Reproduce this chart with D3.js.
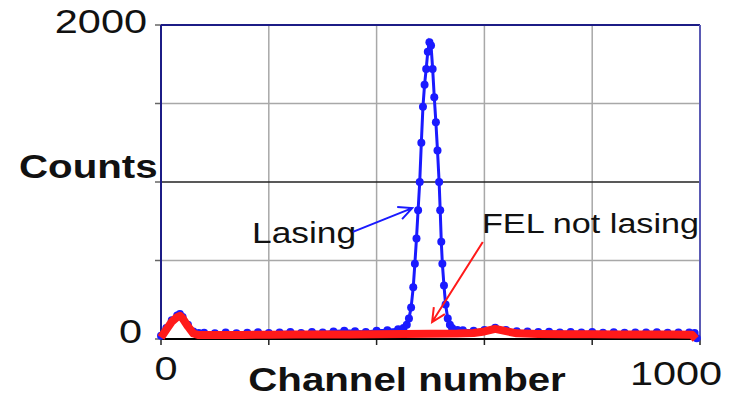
<!DOCTYPE html>
<html lang="en">
<head>
    <meta charset="UTF-8">
    <title>Counts vs channel</title>
    <script src="https://cdn.jsdelivr.net/npm/d3@7"></script>
    <style>
        body { margin: 0; background: #fff; }
        text { font-family: "Liberation Sans", Arial, sans-serif; fill: #111; }
    </style>
</head>
<body>
<script>
    // channel / counts
    const lasingChannels = [0, 10, 20, 30, 35, 40, 50, 60, 70, 80, 100, 120, 140, 160, 180, 200, 220, 240, 260, 280,
        300, 320, 340, 360, 380, 400, 420, 440, 450, 456, 460, 464, 468, 471, 474, 477, 480, 483, 486, 489,
        492, 495, 498, 501, 504, 507, 510, 513, 516, 518, 520, 522, 525, 528, 532, 536, 540, 550, 560, 580,
        600, 620, 640, 660, 680, 700, 720, 740, 760, 780, 800, 820, 840, 860, 880, 900, 920, 940, 960, 980, 990, 994]
    const lasingCounts = [20, 70, 120, 150, 160, 140, 90, 48, 38, 40, 36, 42, 37, 40, 43, 38, 41, 44, 39, 45,
        42, 47, 52, 49, 45, 52, 56, 62, 70, 90, 130, 200, 330, 480, 640, 820, 1000, 1250, 1480, 1620,
        1720, 1830, 1890, 1870, 1720, 1540, 1380, 1200, 1000, 820, 620, 480, 340, 220, 130, 90, 70, 58, 55, 52,
        58, 72, 58, 50, 47, 44, 46, 41, 45, 42, 44, 40, 43, 40, 42, 41, 43, 40, 42, 41, 38, 5]

    const notLasingChannels = [0, 10, 20, 30, 35, 40, 50, 60, 70, 100, 150, 200, 250, 300, 350, 400, 450, 500, 550,
        580, 600, 620, 640, 660, 700, 750, 800, 850, 900, 950, 985, 992]
    const notLasingCounts = [10, 60, 110, 140, 148, 132, 80, 35, 25, 25, 26, 27, 28, 28, 29, 30, 32, 34, 35,
        38, 48, 65, 50, 36, 32, 30, 30, 29, 28, 28, 27, 0]

    const yTicks = [0, 500, 1000, 1500, 2000]
    const xTicks = [0, 200, 400, 600, 800, 1000]

    const W = 740, H = 401
    const plot = {left: 161, right: 700, top: 25, bottom: 339}
    const stretch = 1.22   // text in the picture is a little wide

    const x = d3.scaleLinear().domain([0, 1000]).range([plot.left, plot.right])
    const y = d3.scaleLinear().domain([0, 2000]).range([plot.bottom, plot.top])

    const svg = d3.select("body").append("svg").attr("width", W).attr("height", H)

    // grid
    svg.append("g").selectAll("line").data(xTicks.slice(1, -1)).join("line")
        .attr("x1", d => x(d)).attr("x2", d => x(d))
        .attr("y1", plot.top).attr("y2", plot.bottom)
        .attr("stroke", "#a8a8a8").attr("stroke-width", 1.5)
    svg.append("g").selectAll("line").data(yTicks.slice(1, -1)).join("line")
        .attr("x1", plot.left).attr("x2", plot.right)
        .attr("y1", d => y(d)).attr("y2", d => y(d))
        .attr("stroke", d => d === 1000 ? "#222" : "#a8a8a8").attr("stroke-width", 1.5)

    // tick marks
    svg.append("g").selectAll("line").data(yTicks).join("line")
        .attr("x1", plot.left - 6).attr("x2", plot.left)
        .attr("y1", d => y(d)).attr("y2", d => y(d))
        .attr("stroke", "#666").attr("stroke-width", 1.5)
    svg.append("g").selectAll("line").data(xTicks).join("line")
        .attr("x1", d => x(d)).attr("x2", d => x(d))
        .attr("y1", plot.bottom).attr("y2", plot.bottom + 6)
        .attr("stroke", "#222").attr("stroke-width", 1.5)

    // frame
    svg.append("line").attr("x1", plot.left).attr("x2", plot.right).attr("y1", plot.top).attr("y2", plot.top)
        .attr("stroke", "#1c1c86").attr("stroke-width", 2)
    svg.append("line").attr("x1", plot.left).attr("x2", plot.left).attr("y1", plot.top).attr("y2", plot.bottom)
        .attr("stroke", "#1c1c86").attr("stroke-width", 2)
    svg.append("line").attr("x1", plot.right).attr("x2", plot.right).attr("y1", plot.top).attr("y2", plot.bottom)
        .attr("stroke", "#5a5ab4").attr("stroke-width", 2)
    svg.append("line").attr("x1", plot.left).attr("x2", plot.right).attr("y1", plot.bottom).attr("y2", plot.bottom)
        .attr("stroke", "#000").attr("stroke-width", 2)

    const line = d3.line().x(d => x(d[0])).y(d => y(d[1]))
    const lasing = d3.zip(lasingChannels, lasingCounts)
    const notLasing = d3.zip(notLasingChannels, notLasingCounts)

    // Lasing series
    svg.append("path").datum(lasing).attr("d", line)
        .attr("fill", "none").attr("stroke", "#1a1aff").attr("stroke-width", 3)
    svg.append("g").selectAll("circle").data(lasing).join("circle")
        .attr("cx", d => x(d[0])).attr("cy", d => y(d[1])).attr("r", 4)
        .attr("fill", "#1a1aff")

    // FEL not lasing series
    svg.append("path").datum(notLasing).attr("d", line)
        .attr("fill", "none").attr("stroke", "#ff1a1a").attr("stroke-width", 8)
        .attr("stroke-linejoin", "round")

    // text helper
    function label(px, py, str, size, weight, anchor) {
        svg.append("text")
            .attr("transform", `translate(${px},${py}) scale(${stretch},1)`)
            .attr("font-size", size).attr("font-weight", weight).attr("text-anchor", anchor)
            .text(str)
    }

    label(147, 33, "2000", 34, "normal", "end")
    label(142, 343, "0", 34, "normal", "end")
    label(166, 380, "0", 34, "normal", "middle")
    label(676, 385, "1000", 34, "normal", "middle")
    label(19, 178, "Counts", 33, "bold", "start")
    label(407, 391, "Channel number", 33, "bold", "middle")
    label(252, 243, "Lasing", 29, "normal", "start")
    label(482, 233, "FEL not lasing", 28, "normal", "start")

    // annotation arrows, in data units
    function arrow(from, to, colour) {
        const x0 = x(from[0]), y0 = y(from[1]), x1 = x(to[0]), y1 = y(to[1])
        const a = Math.atan2(y1 - y0, x1 - x0), len = 15, spread = 0.45
        const p = d3.path()
        p.moveTo(x0, y0); p.lineTo(x1, y1)
        p.moveTo(x1 - len * Math.cos(a - spread), y1 - len * Math.sin(a - spread))
        p.lineTo(x1, y1)
        p.lineTo(x1 - len * Math.cos(a + spread), y1 - len * Math.sin(a + spread))
        svg.append("path").attr("d", p.toString())
            .attr("fill", "none").attr("stroke", colour).attr("stroke-width", 2)
    }
    arrow([356, 682], [466, 834], "#1a1aff")
    arrow([597, 618], [503, 108], "#ff1a1a")
</script>
</body>
</html>
